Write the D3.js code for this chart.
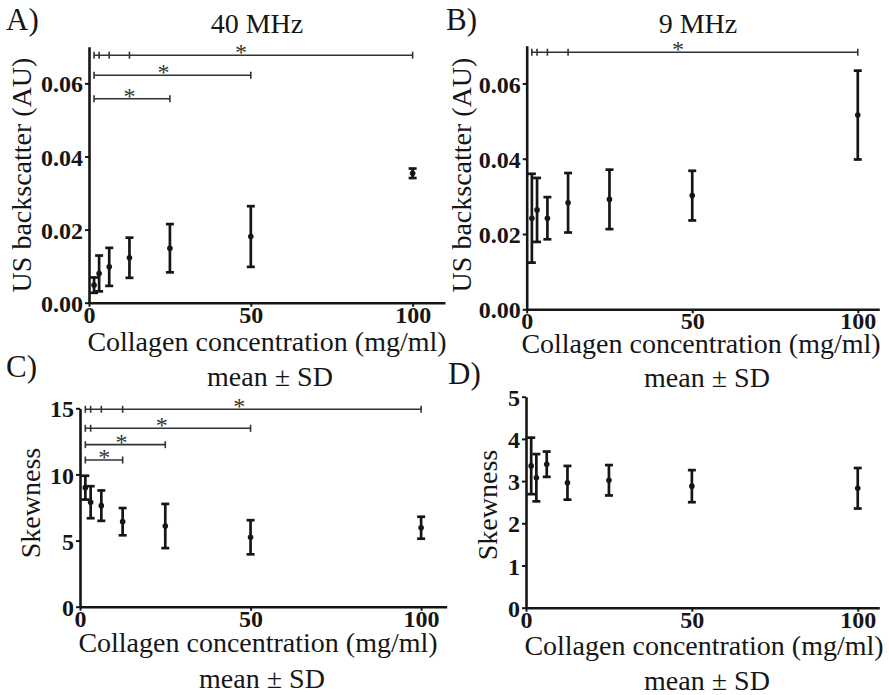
<!DOCTYPE html>
<html>
<head>
<meta charset="utf-8">
<script src="https://cdn.jsdelivr.net/npm/d3@7"></script>
<style>
  html, body { margin: 0; padding: 0; background: #fff; }
  svg text { font-family: 'Liberation Serif', 'Times New Roman', serif; fill: #161616; }
  .tick-label { font-weight: bold; font-size: 24px; }
  .axis-title { font-size: 28px; }
  .panel-letter { font-size: 31px; }
</style>
</head>
<body>
<div id="chart"></div>
<script>
// data
const concentrations = [1.5625, 3.125, 6.25, 12.5, 25, 50, 100];
const xTicks = [0, 50, 100];

const backscatter40Mean = [0.0048, 0.0080, 0.0098, 0.0123, 0.0149, 0.0181, 0.0354];
const backscatter40SD = [0.0021, 0.0049, 0.0052, 0.0055, 0.0066, 0.0083, 0.0013];
const backscatter9Mean = [0.0242, 0.0264, 0.0242, 0.0283, 0.0292, 0.0302, 0.0516];
const backscatter9SD = [0.0118, 0.0085, 0.0056, 0.0079, 0.0079, 0.0066, 0.0118];
const skew40Mean = [9.0, 7.9, 7.64, 6.43, 6.1, 5.25, 5.97];
const skew40SD = [0.9, 1.21, 1.15, 1.03, 1.67, 1.29, 0.83];
const skew9Mean = [3.36, 3.08, 3.4, 2.96, 3.02, 2.88, 2.83];
const skew9SD = [0.67, 0.56, 0.3, 0.4, 0.36, 0.38, 0.48];

const backscatterTicks = [0, 0.02, 0.04, 0.06];
const skew40Ticks = [0, 5, 10, 15];
const skew9Ticks = [0, 1, 2, 3, 4, 5];

// significance brackets: level, tick positions (first..last), star position
const sigA = [
  { level: 0.0677, ticks: [1.5625, 3.125, 6.25, 12.5, 100], star: 47 },
  { level: 0.0622, ticks: [1.5625, 50], star: 23 },
  { level: 0.0558, ticks: [1.5625, 25], star: 12.5 },
];
const sigB = [
  { level: 0.0683, ticks: [1.5625, 3.125, 6.25, 12.5, 100], star: 45.7 },
];
const sigC = [
  { level: 14.93, ticks: [1.5625, 3.125, 6.25, 12.5, 100], star: 46.7 },
  { level: 13.49, ticks: [1.5625, 3.125, 50], star: 24 },
  { level: 12.25, ticks: [1.5625, 25], star: 12.2 },
  { level: 11.09, ticks: [1.5625, 12.5], star: 7.1 },
];
const sigD = [];

// dimensions
const WIDTH = 889;
const HEIGHT = 695;
const AXIS_WIDTH = 2.6;
const BAR_WIDTH = 2.7;
const CAP = 4;
const DOT_R = 2.8;
const SIG_TICK = 3.5;

const panels = [
  {
    letter: 'A)', letterPos: [6, 30], title: '40 MHz', titlePos: [257, 33],
    mean: backscatter40Mean, sd: backscatter40SD, sig: sigA,
    xDomain: [0, 110], xRange: [89, 445],
    yDomain: [0, 0.07], yRange: [302.7, 46.8], yTicks: backscatterTicks, yFormat: d3.format('.2f'),
    yLabel: 'US backscatter (AU)', yLabelPos: [31, 175],
    xLabelPos: [267, 351], subPos: [270, 386],
  },
  {
    letter: 'B)', letterPos: [446, 30], title: '9 MHz', titlePos: [698, 33],
    mean: backscatter9Mean, sd: backscatter9SD, sig: sigB,
    xDomain: [0, 106.5], xRange: [526.7, 879.3],
    yDomain: [0, 0.07], yRange: [309.3, 45.8], yTicks: backscatterTicks, yFormat: d3.format('.2f'),
    yLabel: 'US backscatter (AU)', yLabelPos: [471, 175],
    xLabelPos: [701, 353], subPos: [707, 387],
  },
  {
    letter: 'C)', letterPos: [6, 377],
    mean: skew40Mean, sd: skew40SD, sig: sigC,
    xDomain: [0, 107.5], xRange: [80, 446.7],
    yDomain: [0, 15], yRange: [606.7, 408.3], yTicks: skew40Ticks, yFormat: d3.format('d'),
    yLabel: 'Skewness', yLabelPos: [40, 503],
    xLabelPos: [258, 652], subPos: [262, 688],
  },
  {
    letter: 'D)', letterPos: [448, 384],
    mean: skew9Mean, sd: skew9SD, sig: sigD,
    xDomain: [0, 106.5], xRange: [526, 879.3],
    yDomain: [0, 5], yRange: [607.7, 396.7], yTicks: skew9Ticks, yFormat: d3.format('d'),
    yLabel: 'Skewness', yLabelPos: [497, 505],
    xLabelPos: [704, 655], subPos: [707, 690],
  },
];

const $svg = d3.select('#chart').append('svg')
  .attr('width', WIDTH)
  .attr('height', HEIGHT);

panels.forEach(p => {
  const scaleX = d3.scaleLinear().domain(p.xDomain).range(p.xRange);
  const scaleY = d3.scaleLinear().domain(p.yDomain).range(p.yRange);
  const x0 = scaleX(0);
  const y0 = scaleY(0);
  const $g = $svg.append('g');

  // axes
  const $yAxis = $g.append('g')
    .attr('transform', `translate(${x0},0)`)
    .call(d3.axisLeft(scaleY).tickValues(p.yTicks).tickFormat(p.yFormat).tickSize(4).tickSizeOuter(0).tickPadding(2));
  const $xAxis = $g.append('g')
    .attr('transform', `translate(0,${y0})`)
    .call(d3.axisBottom(scaleX).tickValues(xTicks).tickSize(4).tickSizeOuter(0).tickPadding(0));

  [$yAxis, $xAxis].forEach($a => {
    $a.attr('font-family', null).attr('font-size', null);
    $a.select('.domain').attr('stroke', '#161616').attr('stroke-width', AXIS_WIDTH);
    $a.selectAll('.tick line').attr('stroke', '#161616').attr('stroke-width', 2);
    $a.selectAll('.tick text').attr('class', 'tick-label').attr('fill', '#161616');
  });
  $yAxis.selectAll('.tick text').attr('dy', '0.36em');
  $xAxis.selectAll('.tick text').attr('dy', '0.66em');

  // error bars
  const rows = concentrations.map((c, i) => ({ c, m: p.mean[i], s: p.sd[i] }));
  const $pts = $g.selectAll('.pt').data(rows).join('g').attr('class', 'pt');
  $pts.append('line')
    .attr('x1', d => scaleX(d.c)).attr('x2', d => scaleX(d.c))
    .attr('y1', d => scaleY(d.m - d.s)).attr('y2', d => scaleY(d.m + d.s))
    .attr('stroke', '#161616').attr('stroke-width', BAR_WIDTH);
  $pts.selectAll('.cap')
    .data(d => [d.m - d.s, d.m + d.s].map(v => ({ c: d.c, v })))
    .join('line')
    .attr('class', 'cap')
    .attr('x1', d => scaleX(d.c) - CAP).attr('x2', d => scaleX(d.c) + CAP)
    .attr('y1', d => scaleY(d.v)).attr('y2', d => scaleY(d.v))
    .attr('stroke', '#161616').attr('stroke-width', BAR_WIDTH);
  $pts.append('circle')
    .attr('cx', d => scaleX(d.c)).attr('cy', d => scaleY(d.m))
    .attr('r', DOT_R).attr('fill', '#161616');

  // significance brackets
  const $sig = $g.selectAll('.sig').data(p.sig).join('g').attr('class', 'sig');
  $sig.append('line')
    .attr('x1', d => scaleX(d.ticks[0])).attr('x2', d => scaleX(d.ticks[d.ticks.length - 1]))
    .attr('y1', d => scaleY(d.level)).attr('y2', d => scaleY(d.level))
    .attr('stroke', '#333').attr('stroke-width', 1.6);
  $sig.selectAll('.sig-tick')
    .data(d => d.ticks.map(t => ({ t, level: d.level })))
    .join('line')
    .attr('class', 'sig-tick')
    .attr('x1', d => scaleX(d.t)).attr('x2', d => scaleX(d.t))
    .attr('y1', d => scaleY(d.level) - SIG_TICK).attr('y2', d => scaleY(d.level) + SIG_TICK)
    .attr('stroke', '#333').attr('stroke-width', 1.6);
  $sig.append('text')
    .attr('x', d => scaleX(d.star)).attr('y', d => scaleY(d.level) + 5)
    .attr('text-anchor', 'middle')
    .style('font-size', '24px')
    .style('fill', '#333')
    .text('*');

  // labels
  $g.append('text').attr('class', 'panel-letter')
    .attr('x', p.letterPos[0]).attr('y', p.letterPos[1]).text(p.letter);
  if (p.title) {
    $g.append('text').attr('class', 'axis-title')
      .attr('x', p.titlePos[0]).attr('y', p.titlePos[1])
      .attr('text-anchor', 'middle').text(p.title);
  }
  $g.append('text').attr('class', 'axis-title')
    .attr('transform', `translate(${p.yLabelPos[0]},${p.yLabelPos[1]}) rotate(-90)`)
    .attr('text-anchor', 'middle').text(p.yLabel);
  $g.append('text').attr('class', 'axis-title')
    .attr('x', p.xLabelPos[0]).attr('y', p.xLabelPos[1])
    .attr('text-anchor', 'middle').text('Collagen concentration (mg/ml)');
  $g.append('text').attr('class', 'axis-title')
    .attr('x', p.subPos[0]).attr('y', p.subPos[1])
    .attr('text-anchor', 'middle').text('mean \u00b1 SD');
});
</script>
</body>
</html>
